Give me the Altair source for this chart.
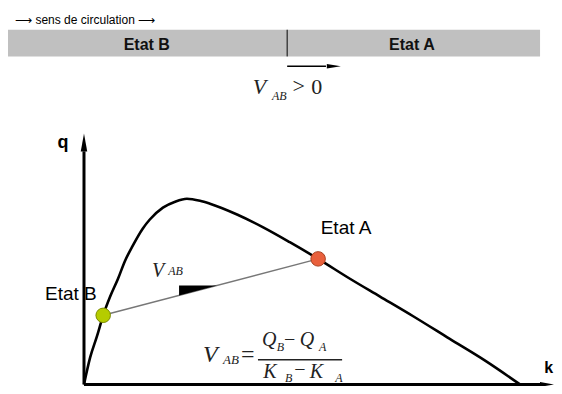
import altair as alt
import pandas as pd

# ---- fundamental diagram q(k) (k: 0..100 = jam density, q: 0..100 = capacity)
curve_k = [0, 1.4, 3.0, 4.4, 6.0, 7.8, 9.4, 11.0, 13.5, 15.1, 18.1, 20.9, 23.6, 26.6, 28.9,
           35.1, 41.1, 47.2, 53.7, 61.0, 67.9, 75.5, 83.9, 92.0, 100]
curve_q = [0, 14.4, 26.1, 37.2, 47.3, 56.9, 66.5, 73.9, 84.0, 88.8, 95.2, 98.4, 100, 98.9, 97.3,
           91.5, 84.6, 76.6, 67.6, 56.9, 47.3, 36.7, 24.5, 12.8, 0]

# ---- the two traffic states
state_names = ["Etat B", "Etat A"]
state_k = [4.4, 53.7]
state_q = [37.2, 67.6]
state_fill = ["#b5cc00", "#e9603c"]
state_stroke = ["#7d8c00", "#a8401f"]

# ---- plot frame (domain covers the whole picture)
K_DOM = [-17.43, 107.8]
Q_DOM = [-0.86, 202.7]
W, H = 546, 378

xs = alt.Scale(domain=K_DOM, nice=False, zero=False)
ys = alt.Scale(domain=Q_DOM, nice=False, zero=False)


def X(f="k"):
    return alt.X(f"{f}:Q", scale=xs, axis=None, title=None)


def Y(f="q"):
    return alt.Y(f"{f}:Q", scale=ys, axis=None, title=None)


# ---- top band (state B | state A)
band_df = pd.DataFrame({"k": [-17.43, 46.6], "k2": [46.6, 104.6], "q": [191.0, 191.0], "q2": [176.6, 176.6]})
band = alt.Chart(band_df).mark_rect(color="#c0c0c0").encode(x=X(), x2="k2:Q", y=Y(), y2="q2:Q")
divider = alt.Chart(pd.DataFrame({"k": [46.6], "q": [191.0], "q2": [176.6]})).mark_rule(
    color="black", strokeWidth=1).encode(x=X(), y=Y(), y2="q2:Q")
band_labels = alt.Chart(pd.DataFrame({"k": [14.4, 75.2], "q": [180.3, 180.3], "t": ["Etat B", "Etat A"]})).mark_text(
    font="Liberation Sans", fontWeight="bold", fontSize=16, align="center", baseline="alphabetic", color="#111"
).encode(x=X(), y=Y(), text="t:N")

# arrow below the band
top_arrow = alt.Chart(pd.DataFrame({"k": [46.6], "k2": [55.5], "q": [171.3]})).mark_rule(
    color="black", strokeWidth=1.4).encode(x=X(), x2="k2:Q", y=Y())
top_head = alt.Chart(pd.DataFrame({"k": [57.3], "q": [171.3]})).mark_point(
    shape="M1,0L-1,0.32L-1,-0.32Z", filled=True, color="black", opacity=1, size=196).encode(x=X(), y=Y())

# ---- axes with arrow heads
axes_df = pd.DataFrame({"k": [0, 0], "k2": [0, 104.8], "q": [0, 0], "q2": [125.5, 0]})
axes = alt.Chart(axes_df).mark_rule(color="black", strokeWidth=3).encode(x=X(), x2="k2:Q", y=Y(), y2="q2:Q")
yhead = alt.Chart(pd.DataFrame({"k": [0], "q": [130.3]})).mark_point(
    shape="M0,-1L0.36,1L-0.36,1Z", filled=True, color="black", opacity=1, size=324).encode(x=X(), y=Y())
xhead = alt.Chart(pd.DataFrame({"k": [106.2], "q": [0]})).mark_point(
    shape="M1,0L-1,0.36L-1,-0.36Z", filled=True, color="black", opacity=1, size=196).encode(x=X(), y=Y())

# ---- chord between states and its slope wedge
chord = alt.Chart(pd.DataFrame({"k": [state_k[0]], "k2": [state_k[1]], "q": [state_q[0]], "q2": [state_q[1]]})).mark_rule(
    color="#777777", strokeWidth=1.5).encode(x=X(), x2="k2:Q", y=Y(), y2="q2:Q")
wedge = alt.Chart(pd.DataFrame({"k": [21.8, 30.5], "q": [53.2, 53.2], "q2": [47.9, 53.2]})).mark_area(
    color="black", opacity=1).encode(x=X(), y=Y(), y2="q2:Q")

# ---- curve
curve = alt.Chart(pd.DataFrame({"k": curve_k, "q": curve_q})).mark_line(
    color="black", strokeWidth=2.6, interpolate="monotone").encode(x=X(), y=Y())

# ---- state points
pts_df = pd.DataFrame({"k": state_k, "q": state_q, "name": state_names})
pts = alt.Chart(pts_df).mark_point(filled=True, opacity=1, size=210, strokeWidth=1).encode(
    x=X(), y=Y(),
    fill=alt.Fill("name:N", scale=alt.Scale(domain=state_names, range=state_fill), legend=None),
    stroke=alt.Stroke("name:N", scale=alt.Scale(domain=state_names, range=state_stroke), legend=None),
)

# ---- text pieces
it_t = ["V", "AB", "V", "AB", "V", "AB", "Q", "B", "Q", "A", "K", "B", "K", "A"]
it_k = [38.7, 43.1, 15.6, 19.3, 27.3, 31.9, 40.8, 44.2, 49.5, 53.9, 41.1, 46.1, 51.8, 57.6]
it_q = [156.4, 153.2, 58.0, 59.0, 12.2, 11.2, 20.7, 17.8, 20.7, 17.8, 3.2, 1.1, 3.2, 1.1]
it_fs = [22, 12, 20, 12, 24, 13, 20, 12, 20, 12, 20, 12, 20, 12]
italic = alt.Chart(pd.DataFrame({"k": it_k, "q": it_q, "t": it_t, "fs": it_fs})).mark_text(
    font="Liberation Serif", fontStyle="italic", align="left", baseline="alphabetic", color="#222"
).encode(x=X(), y=Y(), text="t:N", size=alt.Size("fs:Q", scale=None, legend=None))

rg_t = [">", "0", "=", "\u2212", "\u2212"]
rg_k = [47.8, 52.1, 36.0, 45.9, 48.2]
rg_q = [156.9, 156.4, 12.2, 20.7, 4.3]
rg_fs = [22, 22, 24, 20, 20]
regular = alt.Chart(pd.DataFrame({"k": rg_k, "q": rg_q, "t": rg_t, "fs": rg_fs})).mark_text(
    font="Liberation Serif", align="left", baseline="alphabetic", color="#222"
).encode(x=X(), y=Y(), text="t:N", size=alt.Size("fs:Q", scale=None, legend=None))

frac_bar = alt.Chart(pd.DataFrame({"k": [39.9], "k2": [59.2], "q": [13.3]})).mark_rule(
    color="#222", strokeWidth=1.5).encode(x=X(), x2="k2:Q", y=Y())

state_lbl = alt.Chart(pd.DataFrame({"k": [60.1, -3.0], "q": [80.9, 45.7], "t": ["Etat A", "Etat B"]})).mark_text(
    font="Liberation Sans", fontSize=19, align="center", baseline="alphabetic", color="black"
).encode(x=X(), y=Y(), text="t:N")

axis_lbl = alt.Chart(pd.DataFrame({"k": [-4.8, 106.6], "q": [127.1, 5.9], "t": ["q", "k"], "fs": [18, 16]})).mark_text(
    font="Liberation Sans", fontWeight="bold", align="center", baseline="alphabetic", color="black"
).encode(x=X(), y=Y(), text="t:N", size=alt.Size("fs:Q", scale=None, legend=None))

top_txt = alt.Chart(pd.DataFrame({"k": [-15.8], "q": [194.1], "t": ["\u27f6 sens de circulation \u27f6"]})).mark_text(
    font="Liberation Sans", fontSize=12, align="left", baseline="alphabetic", color="black"
).encode(x=X(), y=Y(), text="t:N")

chart = alt.layer(
    band, divider, band_labels, top_arrow, top_head, top_txt,
    chord, wedge, curve, axes, yhead, xhead, pts,
    italic, regular, frac_bar, state_lbl, axis_lbl,
).properties(width=W, height=H, padding=0, autosize="none").configure_view(stroke=None)

chart.save("out.html", embed_options={"renderer": "svg", "actions": False})
